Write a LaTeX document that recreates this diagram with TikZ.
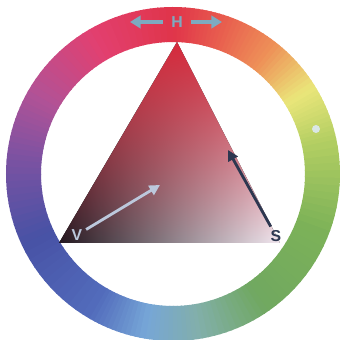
\documentclass[tikz,border=0pt]{standalone}
\usepackage{fontspec}
\setmainfont{Liberation Sans}
\usetikzlibrary{arrows.meta, fadings}

% hue ring colours
\definecolor{hred}{RGB}{224,52,74}
\definecolor{hored}{RGB}{232,92,78}
\definecolor{horange}{RGB}{238,145,88}
\definecolor{hyellow}{RGB}{234,230,122}
\definecolor{hygreen}{RGB}{178,206,98}
\definecolor{hgreentwo}{RGB}{125,178,88}
\definecolor{hgreen}{RGB}{112,168,96}
\definecolor{hteal}{RGB}{130,175,170}
\definecolor{hlblue}{RGB}{118,166,215}
\definecolor{hbluetwo}{RGB}{82,108,188}
\definecolor{hblue}{RGB}{72,82,165}
\definecolor{hpurple}{RGB}{122,82,162}
\definecolor{hmauve}{RGB}{178,82,150}
\definecolor{hpink}{RGB}{226,64,112}
% triangle colours
\definecolor{tvred}{RGB}{215,42,60}
\definecolor{tvdark}{RGB}{35,24,32}
\definecolor{tvmid}{RGB}{118,80,104}
\definecolor{tvlight}{RGB}{242,232,240}
% arrows and labels
\definecolor{harrow}{RGB}{125,170,192}
\definecolor{varrow}{RGB}{188,200,220}
\definecolor{sarrow}{RGB}{45,55,80}

\tikzfading[name=redfade, top color=transparent!0, middle color=transparent!30,
    bottom color=transparent!100]

\begin{document}
\begin{tikzpicture}[
    x=0.02cm, y=0.02cm,
    hue arrow/.style={draw=harrow, line width=2pt, -{Triangle[length=6pt, width=7pt]}},
    v arrow/.style={draw=varrow, line width=1.6pt, -{Triangle[length=6pt, width=6pt]}},
    s arrow/.style={draw=sarrow, line width=1.6pt, -{Triangle[length=6pt, width=6pt]}},
    letter/.style={font=\bfseries\fontsize{9}{10}\selectfont, inner sep=2pt}
]
    \useasboundingbox (-173,-166) rectangle (169,174);

    % Hue ring
    \def\ri{132}
    \def\ro{167}
    \foreach \a/\b/\ca/\cb in {-100/-80/hlblue/hteal, -80/-55/hteal/hgreen,
        -55/-20/hgreen/hgreentwo, -20/12/hgreentwo/hygreen, 12/32/hygreen/hyellow,
        32/52/hyellow/horange, 52/72/horange/hored, 72/90/hored/hred,
        90/120/hred/hpink, 120/150/hpink/hmauve, 150/175/hmauve/hpurple,
        175/205/hpurple/hblue, 205/240/hblue/hbluetwo, 240/260/hbluetwo/hlblue} {
        \foreach \i in {0,...,11} {
            \pgfmathsetmacro\s{\a+(\b-\a)*\i/12}
            \pgfmathsetmacro\e{\a+(\b-\a)*(\i+1)/12+0.5}
            \pgfmathtruncatemacro\p{100-(100*\i+50)/12}
            \fill[\ca!\p!\cb] (\s:\ri) arc[start angle=\s, end angle=\e, radius=\ri]
                -- (\e:\ro) arc[start angle=\e, end angle=\s, radius=\ro] -- cycle;
        }
    }
    \fill[white!70!hteal] (143,45) circle (4);

    % Triangle
    \coordinate (tapex) at (4,132);
    \coordinate (tleft) at (-114,-69);
    \coordinate (tright) at (107,-69);
    \fill[left color=tvdark, middle color=tvmid, right color=tvlight]
        (tapex) -- (tleft) -- (tright) -- cycle;
    \fill[tvred, path fading=redfade] (tapex) -- (tleft) -- (tright) -- cycle;

    % H
    \node[letter, text=harrow, inner sep=4.5pt] (hlabel) at (4,152) {H};
    \coordinate (hleft) at (-43,152);
    \coordinate (hright) at (49,152);
    \draw[hue arrow] (hlabel) -- (hleft);
    \draw[hue arrow] (hlabel) -- (hright);

    % V
    \node[letter, text=varrow] (vlabel) at (-96,-61) {V};
    \coordinate (vtip) at (-13,-11);
    \draw[v arrow] (vlabel) -- (vtip);

    % S
    \node[letter, text=sarrow] (slabel) at (103,-62) {S};
    \coordinate (stip) at (55,24);
    \draw[s arrow] (slabel) -- (stip);
\end{tikzpicture}
\end{document}
